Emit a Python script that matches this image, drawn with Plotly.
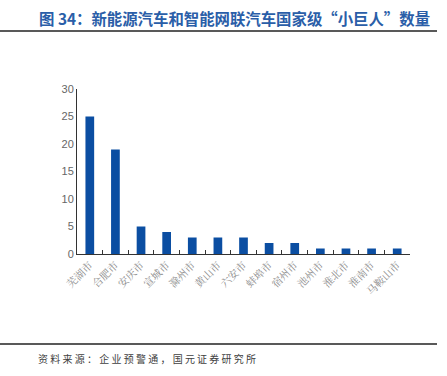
import plotly.graph_objects as go

categories = ["芜湖市", "合肥市", "安庆市", "宣城市", "滁州市", "黄山市", "六安市",
              "蚌埠市", "宿州市", "池州市", "淮北市", "淮南市", "马鞍山市"]
values = [25, 19, 5, 4, 3, 3, 3, 2, 2, 1, 1, 1, 1]
y_ticks = [0, 5, 10, 15, 20, 25, 30]

W, H = 447, 376
L, R, T, B = 77, 37, 89, 122
pw, ph = W - L - R, H - T - B

def px(x):
    return (x - L) / pw

def py(y):
    return (H - B - y) / ph

fig = go.Figure(go.Bar(x=categories, y=values, marker_color="#0B4EA2",
                       marker_line_width=0))

fig.update_layout(
    width=W, height=H,
    margin=dict(l=L, r=R, t=T, b=B),
    plot_bgcolor="white", paper_bgcolor="white",
    bargap=0.66, showlegend=False,
    font=dict(family="Noto Sans CJK SC", color="#595959"),
    xaxis=dict(showline=True, linecolor="#333333", linewidth=1,
               ticks="inside", ticklen=4, tickcolor="#333333",
               tickson="boundaries", tickangle=-45,
               tickfont=dict(size=10.5, color="#8a8a8a", family="Noto Serif CJK SC, Noto Sans CJK SC")),
    yaxis=dict(range=[0, 30], tickvals=y_ticks, showline=True, linecolor="#333333",
               linewidth=1, showgrid=False, zeroline=False,
               ticks="", tickfont=dict(size=11, color="#666666", family="Liberation Sans")),
    shapes=[
        dict(type="line", xref="paper", yref="paper", x0=px(0), x1=px(437),
             y0=py(31), y1=py(31), line=dict(color="#222222", width=1.5)),
        dict(type="line", xref="paper", yref="paper", x0=px(0), x1=px(437),
             y0=py(344), y1=py(344), line=dict(color="#222222", width=1.5)),
    ],
    annotations=[
        dict(text="<b>图 34：新能源汽车和智能网联汽车国家级“小巨人”数量</b>",
             xref="paper", yref="paper", x=px(37), y=py(18), xanchor="left",
             yanchor="middle", showarrow=False,
             font=dict(size=15.4, color="#2A5EA8", family="Noto Sans CJK SC")),
        dict(text="资 料 来 源 ： 企 业 预 警 通 ， 国 元 证 券 研 究 所",
             xref="paper", yref="paper", x=px(36), y=py(358), xanchor="left",
             yanchor="middle", showarrow=False,
             font=dict(size=10, color="#404040", family="Noto Sans CJK SC")),
    ],
)

fig.write_html("out.html", config={"displayModeBar": False},
               post_script="document.body.style.margin='0';")
